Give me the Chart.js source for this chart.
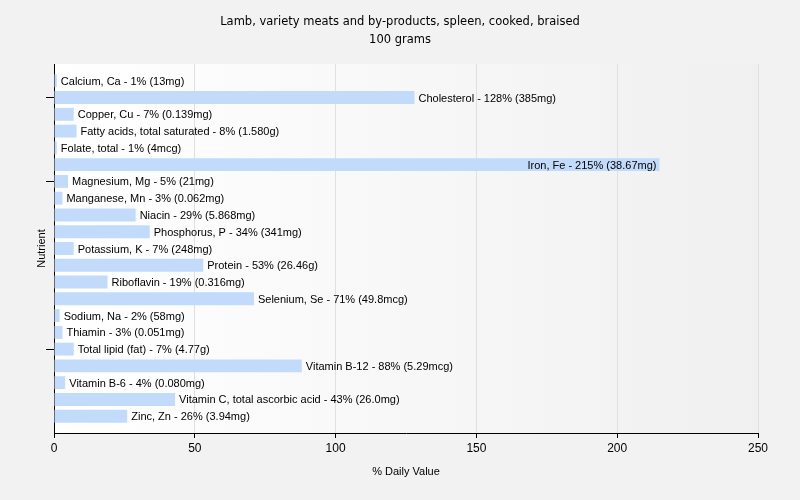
<!DOCTYPE html>
<html>
<head>
<meta charset="utf-8">
<script src="https://cdn.jsdelivr.net/npm/chart.js@4/dist/chart.umd.min.js"></script>
<style>
  body { margin: 0; background: #f2f2f2; }
</style>
</head>
<body>
<canvas id="myChart" width="800" height="500"></canvas>
<script>
const titleLines = ['Lamb, variety meats and by-products, spleen, cooked, braised', '100 grams'];
const nutrients = [
  'Calcium, Ca', 'Cholesterol', 'Copper, Cu', 'Fatty acids, total saturated', 'Folate, total',
  'Iron, Fe', 'Magnesium, Mg', 'Manganese, Mn', 'Niacin', 'Phosphorus, P', 'Potassium, K',
  'Protein', 'Riboflavin', 'Selenium, Se', 'Sodium, Na', 'Thiamin', 'Total lipid (fat)',
  'Vitamin B-12', 'Vitamin B-6', 'Vitamin C, total ascorbic acid', 'Zinc, Zn'
];
const dailyValue = [1, 128, 7, 8, 1, 215, 5, 3, 29, 34, 7, 53, 19, 71, 2, 3, 7, 88, 4, 43, 26];
const amounts = [
  '13mg', '385mg', '0.139mg', '1.580g', '4mcg', '38.67mg', '21mg', '0.062mg', '5.868mg',
  '341mg', '248mg', '26.46g', '0.316mg', '49.8mcg', '58mg', '0.051mg', '4.77g', '5.29mcg',
  '0.080mg', '26.0mg', '3.94mg'
];
const xTicks = [0, 50, 100, 150, 200, 250];
// categories that get a tick mark on the y axis
const markedNutrients = ['Cholesterol', 'Magnesium, Mg', 'Total lipid (fat)'];

// one empty slot above and below so the bars sit off the axis ends
const labels = [''].concat(nutrients, ['']);
const values = [null].concat(dailyValue, [null]);

const bgPlugin = {
  id: 'bg',
  beforeDraw(chart) {
    const { ctx, chartArea: a } = chart;
    ctx.save();
    ctx.fillStyle = '#f2f2f2';
    ctx.fillRect(0, 0, chart.width, chart.height);
    const g = ctx.createLinearGradient(a.left, 0, a.right, 0);
    g.addColorStop(0, '#ffffff');
    g.addColorStop(1, '#f0f0f0');
    ctx.fillStyle = g;
    ctx.fillRect(a.left, a.top, a.right - a.left, a.bottom - a.top);
    // title, centred on the whole canvas
    ctx.font = '11.5px "DejaVu Sans", sans-serif';
    ctx.fillStyle = '#000';
    ctx.textAlign = 'center';
    ctx.textBaseline = 'middle';
    titleLines.forEach((t, i) => ctx.fillText(t, chart.width / 2, 22 + i * 18));
    ctx.restore();
  }
};

const barLabels = {
  id: 'barLabels',
  afterDatasetsDraw(chart) {
    const { ctx, chartArea } = chart;
    const meta = chart.getDatasetMeta(0);
    ctx.save();
    ctx.font = '11px "Liberation Sans", Arial, sans-serif';
    ctx.fillStyle = '#000';
    ctx.textBaseline = 'middle';
    meta.data.forEach((bar, i) => {
      const k = i - 1;
      if (k < 0 || k >= nutrients.length) return;
      const text = nutrients[k] + ' - ' + dailyValue[k] + '% (' + amounts[k] + ')';
      const w = ctx.measureText(text).width;
      if (bar.x + 4 + w > chartArea.right) {
        ctx.textAlign = 'right';
        ctx.fillText(text, bar.x - 3, bar.y + 1);
      } else {
        ctx.textAlign = 'left';
        ctx.fillText(text, bar.x + 4, bar.y + 1);
      }
    });
    ctx.restore();
  }
};

const font = { size: 11, family: '"Liberation Sans", Arial, sans-serif' };

const ctx = document.getElementById('myChart').getContext('2d');
const myChart = new Chart(ctx, {
  type: 'bar',
  data: {
    labels: labels,
    datasets: [{
      data: values,
      backgroundColor: '#c2dbfa',
      borderWidth: 0,
      barPercentage: 0.77,
      categoryPercentage: 1
    }]
  },
  plugins: [bgPlugin, barLabels],
  options: {
    indexAxis: 'y',
    responsive: false,
    animation: false,
    devicePixelRatio: 1,
    layout: { padding: { left: 0, right: 42, top: 64, bottom: 0 } },
    plugins: {
      legend: { display: false },
      tooltip: { enabled: false },
      title: { display: false }
    },
    scales: {
      x: {
        min: 0,
        max: 250,
        afterBuildTicks: s => { s.ticks = xTicks.map(v => ({ value: v })); },
        afterFit: s => { s.height = 67; },
        border: { color: '#000', width: 1 },
        grid: { color: '#e0e0e0', tickColor: '#000', tickLength: 5 },
        ticks: { color: '#000', font: { size: 12, family: font.family }, padding: 3, maxRotation: 0 },
        title: { display: true, text: '% Daily Value', color: '#000', font: font, padding: { top: 0, bottom: 21 } }
      },
      y: {
        offset: false,
        afterFit: s => { s.width = 54; },
        border: { color: '#000', width: 1 },
        grid: {
          offset: false,
          drawOnChartArea: false,
          tickLength: 8,
          tickColor: c => markedNutrients.includes(labels[c.index]) ? '#000' : 'rgba(0,0,0,0)'
        },
        ticks: { autoSkip: false, callback: () => '' },
        title: { display: true, text: 'Nutrient', color: '#000', font: font, padding: { top: 35, bottom: 0 } }
      }
    }
  }
});
</script>
</body>
</html>
